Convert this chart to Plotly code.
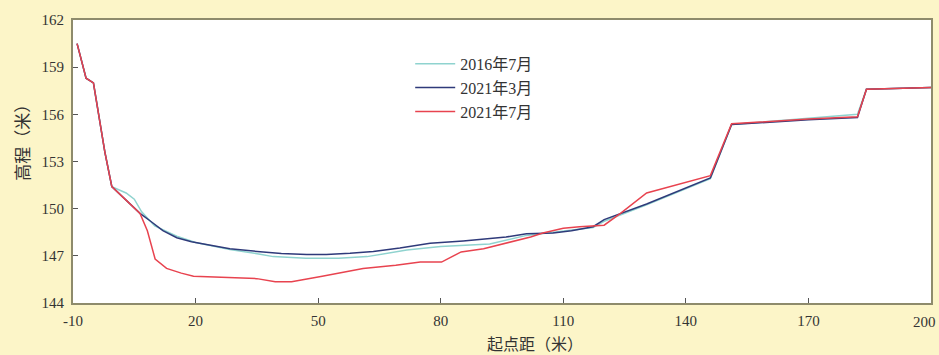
import plotly.graph_objects as go

# Cross-section survey: bed elevation (m) vs distance from the starting point (m)
x_2016_07 = [-9, -6.8, -5, -2.2, -0.5, 3, 5, 6.8, 10, 15.4, 20, 28.4, 35.8, 39, 47, 55, 62,
             71.7, 80, 92, 101, 110, 117.3, 120, 130.4, 146, 151.2, 170, 182, 184.2, 200]
y_2016_07 = [160.5, 158.3, 158.0, 153.6, 151.4, 151.0, 150.6, 149.8, 148.9, 148.25, 147.85,
             147.4, 147.1, 146.95, 146.85, 146.85, 146.95, 147.37, 147.6, 147.75, 148.3,
             148.55, 148.8, 149.2, 150.25, 151.9, 155.35, 155.75, 156.0, 157.6, 157.7]

x_2021_03 = [-9, -6.8, -5, -2.2, -0.5, 6.4, 9, 12, 15.4, 19, 24, 28.4, 35.8, 41, 47.2, 52,
             57.8, 63.5, 70, 77.4, 85.5, 96, 101, 107.5, 112, 117.3, 120, 124, 130.4, 146,
             151.2, 170, 182, 184.2, 200]
y_2021_03 = [160.5, 158.3, 158.0, 153.6, 151.4, 149.7, 149.2, 148.6, 148.15, 147.9, 147.65,
             147.45, 147.26, 147.15, 147.08, 147.08, 147.16, 147.28, 147.5, 147.8, 147.95,
             148.2, 148.4, 148.45, 148.6, 148.85, 149.3, 149.7, 150.3, 151.95, 155.35,
             155.65, 155.8, 157.6, 157.7]

x_2021_07 = [-9, -6.8, -5, -2.2, -0.5, 6.4, 8.2, 10.1, 12.9, 16.5, 19.5, 27.6, 35, 39.5,
             43.5, 51, 57.8, 61, 69, 75, 80.2, 85, 90.5, 96, 102, 105, 110, 114, 120, 124,
             130.4, 146, 151.2, 170, 182, 184.2, 200]
y_2021_07 = [160.5, 158.3, 158.0, 153.6, 151.4, 149.7, 148.6, 146.8, 146.2, 145.9, 145.7,
             145.6, 145.55, 145.35, 145.35, 145.7, 146.05, 146.2, 146.4, 146.6, 146.6,
             147.25, 147.45, 147.8, 148.2, 148.45, 148.75, 148.85, 148.95, 149.7, 151.0,
             152.1, 155.4, 155.7, 155.85, 157.6, 157.7]

x_ticks = [-10, 20, 50, 80, 110, 140, 170, 200]
x_tick_labels = ["-10", "20", "50", "80", "110", "140", "170", "200"]
y_ticks = [144, 147, 150, 153, 156, 159, 162]

series = [
    ("2016年7月", x_2016_07, y_2016_07, "#8fd3cf"),
    ("2021年3月", x_2021_03, y_2021_03, "#2f3a7a"),
    ("2021年7月", x_2021_07, y_2021_07, "#e8434f"),
]

fig = go.Figure()
for name, xs, ys, color in series:
    fig.add_trace(go.Scatter(x=xs, y=ys, mode="lines", name=name,
                             line=dict(color=color, width=1.5)))

serif = "Liberation Serif, Times New Roman, serif"
cjk = "Liberation Serif, Noto Sans CJK SC, serif"
tick_font = dict(family=serif, size=15, color="#333333")
axis_common = dict(
    showline=True, linecolor="#8e8b6c", linewidth=2, mirror=True,
    ticks="inside", ticklen=5, tickwidth=1.2, tickcolor="#555555",
    showgrid=False, zeroline=False, automargin=False, tickfont=tick_font,
)

# the last x label sits flush against the right edge of the figure,
# so it is drawn right-aligned instead of centred on its tick
axis_labels = x_tick_labels[:-1] + [""]

fig.update_layout(
    width=939, height=355,
    margin=dict(l=73, r=8, t=20, b=52),
    paper_bgcolor="#fcf5c8",
    plot_bgcolor="#ffffff",
    showlegend=True,
    legend=dict(x=0.393, y=0.905, xanchor="left", yanchor="top",
                bgcolor="rgba(0,0,0,0)", font=dict(family=cjk, size=16, color="#333333"),
                tracegroupgap=0, itemwidth=40),
    xaxis=dict(range=[-10, 200], tickvals=x_ticks, ticktext=axis_labels,
               ticklabelstandoff=3, **axis_common),
    yaxis=dict(range=[144, 162], tickvals=y_ticks, ticklabelstandoff=4, **axis_common),
    annotations=[
        dict(text=x_tick_labels[-1], xref="x", yref="paper", x=x_ticks[-1], y=0,
             xshift=7, yshift=-9, showarrow=False, xanchor="right", yanchor="top",
             font=tick_font),
        dict(text="起点距（米）", xref="paper", yref="paper", x=0.538, y=0,
             yshift=-40, showarrow=False, xanchor="center", yanchor="middle",
             font=dict(family="Noto Sans CJK SC", size=16, color="#333333")),
        dict(text="高程（米）", xref="paper", yref="paper", x=0, y=0.58,
             xshift=-51, showarrow=False, textangle=-90, xanchor="center", yanchor="middle",
             font=dict(family="Noto Sans CJK SC", size=17, color="#333333")),
    ],
)

fig.write_html("out.html")
